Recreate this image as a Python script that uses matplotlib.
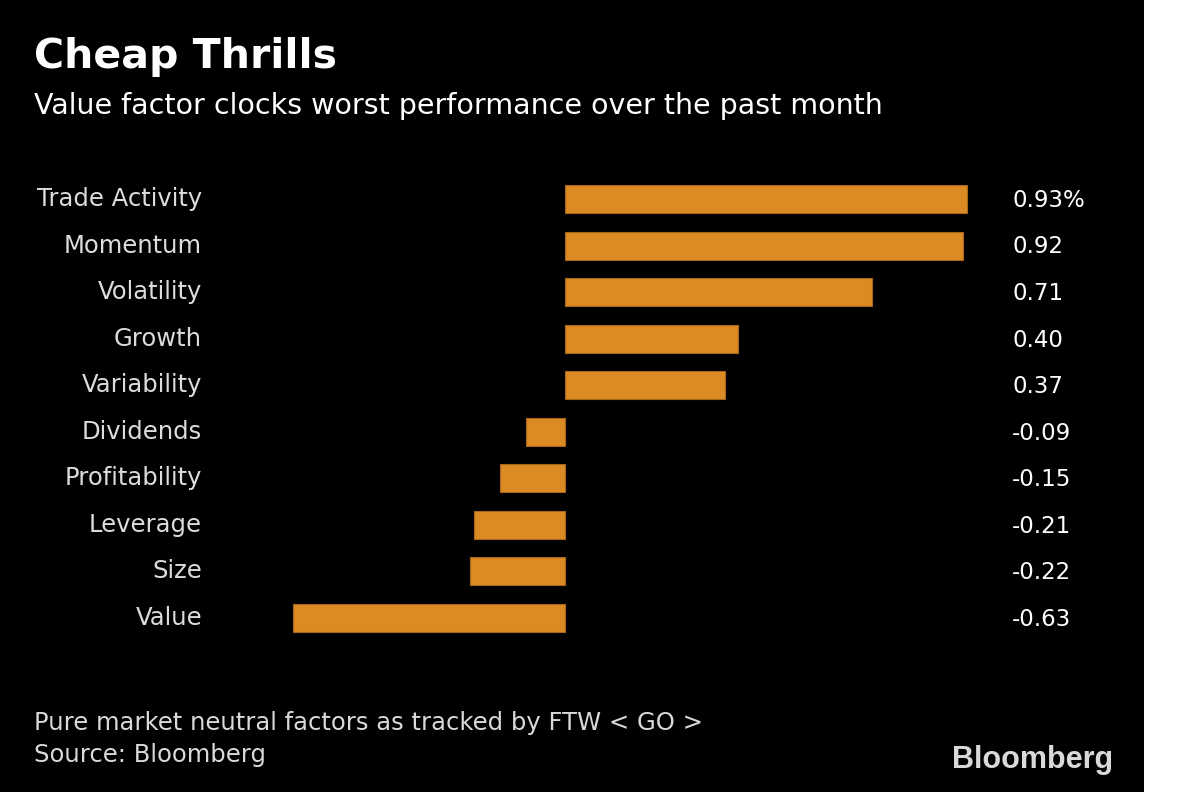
import matplotlib
matplotlib.use("Agg")
import matplotlib.pyplot as plt
import matplotlib.transforms as mtransforms
from matplotlib.patches import Rectangle

factors = ['Trade Activity', 'Momentum', 'Volatility', 'Growth', 'Variability',
           'Dividends', 'Profitability', 'Leverage', 'Size', 'Value']
returns = [0.93, 0.92, 0.71, 0.40, 0.37, -0.09, -0.15, -0.21, -0.22, -0.63]
value_labels = ['0.93%', '0.92', '0.71', '0.40', '0.37', '-0.09', '-0.15', '-0.21', '-0.22', '-0.63']

W, H = 1200, 792
BAR_COLOR = '#DB8A24'
font = 'DejaVu Sans'

fig = plt.figure(figsize=(W / 100, H / 100), dpi=100)
fig.patch.set_facecolor('white')
# black panel, white strip on the right
fig.patches.append(Rectangle((0, 0), 1144 / W, 1, transform=fig.transFigure,
                             facecolor='black', edgecolor='none', zorder=-5))

# axes placed in pixel terms: zero line at x=565, 432 px per unit
ax_l, ax_r = 250, 990
ax_t, ax_b = 170, 650
ax = fig.add_axes([ax_l / W, 1 - ax_b / H, (ax_r - ax_l) / W, (ax_b - ax_t) / H])
ax.set_facecolor('none')
ax.set_zorder(2)
scale = 402 / 0.93
ax.set_xlim(-(565 - ax_l) / scale, (ax_r - 565) / scale)
step = 46.55
ax.set_ylim((ax_b - 199) / step, (ax_t - 199) / step)

pos = list(range(len(factors)))
ax.barh(pos, returns, height=0.6, color=BAR_COLOR, edgecolor='#A8661A', linewidth=0.8)
ax.axis('off')

lab_tr = mtransforms.blended_transform_factory(fig.transFigure, ax.transData)
for i, name in enumerate(factors):
    ax.text(202 / W, i, name, transform=lab_tr, ha='right', va='center',
            fontsize=17.5, color='#dcdcdc', family=font)
    ax.text(1012 / W, i + 0.03, value_labels[i], transform=lab_tr, ha='left', va='center',
            fontsize=16.5, color='white', family=font)

fig.text(34 / W, 1 - 57 / H, 'Cheap Thrills', fontsize=29.5, fontweight='bold',
         color='white', va='center', ha='left', family=font)
fig.text(34 / W, 1 - 106 / H, 'Value factor clocks worst performance over the past month',
         fontsize=20.5, color='white', va='center', ha='left', family=font)

fig.text(34 / W, 1 - 723 / H, 'Pure market neutral factors as tracked by FTW < GO >',
         fontsize=17.5, color='#d9d9d9', va='center', ha='left', family=font)
fig.text(34 / W, 1 - 755 / H, 'Source: Bloomberg',
         fontsize=17.5, color='#d9d9d9', va='center', ha='left', family=font)
fig.text(1113 / W, 1 - 760 / H, 'Bloomberg', fontsize=22, fontweight='bold',
         color='#d9d9d9', va='center', ha='right', family='Liberation Sans')

fig.savefig('out.png', dpi=100, facecolor=fig.get_facecolor())
